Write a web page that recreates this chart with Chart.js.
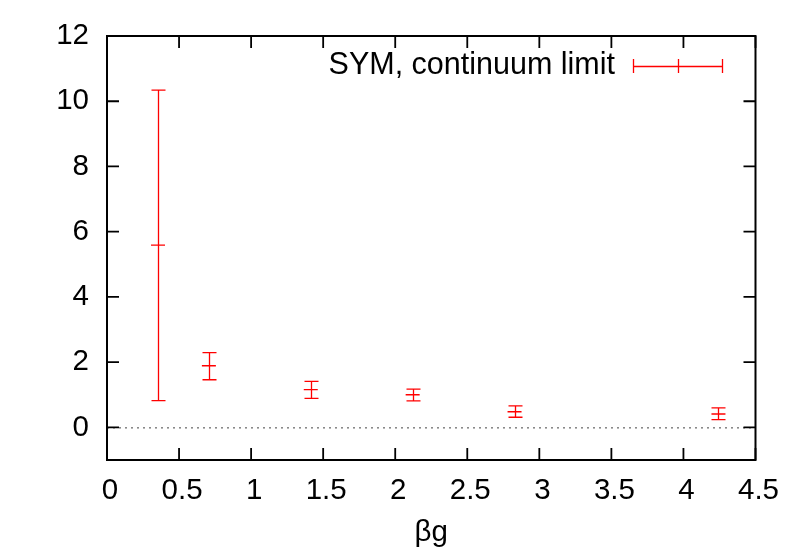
<!DOCTYPE html>
<html>
<head>
<meta charset="utf-8">
<script src="https://cdn.jsdelivr.net/npm/chart.js@4.4.1/dist/chart.umd.min.js"></script>
<style>
  html, body { margin: 0; padding: 0; background: #fff; }
  #wrap { width: 789px; height: 552px; }
</style>
</head>
<body>
<div id="wrap"><canvas id="chart"></canvas></div>
<script>
const seriesLabel = "SYM, continuum limit";
const xValues = [0.354, 0.707, 1.414, 2.121, 2.828, 4.243];
const yValues = [5.59, 1.89, 1.16, 1.00, 0.48, 0.41];
const yLow = [0.82, 1.46, 0.89, 0.81, 0.31, 0.24];
const yHigh = [10.34, 2.29, 1.41, 1.17, 0.66, 0.60];
const xTicks = [0, 0.5, 1, 1.5, 2, 2.5, 3, 3.5, 4, 4.5];
const yTicks = [0, 2, 4, 6, 8, 10, 12];

const FONT = "'Liberation Sans', Arial, Helvetica, sans-serif";
const FS = 29.5;
const RED = "#ff0000";

// error bars, frame, inward ticks, zero line and legend (gnuplot look)
const gnuplotFrame = {
  id: "gnuplotFrame",
  beforeDatasetsDraw(chart) {
    const { ctx, chartArea: a, scales: { x, y } } = chart;
    ctx.save();
    // dotted zero line
    const y0 = y.getPixelForValue(0);
    ctx.strokeStyle = "#444";
    ctx.lineWidth = 1;
    ctx.setLineDash([2, 4]);
    ctx.beginPath();
    ctx.moveTo(a.left, y0 + 0.5);
    ctx.lineTo(a.right, y0 + 0.5);
    ctx.stroke();
    ctx.setLineDash([]);

    // error bars
    ctx.strokeStyle = RED;
    ctx.lineWidth = 1.3;
    const cap = 7;
    xValues.forEach((xv, i) => {
      const px = Math.round(x.getPixelForValue(xv)) + 0.5;
      const lo = y.getPixelForValue(yLow[i]);
      const hi = y.getPixelForValue(yHigh[i]);
      ctx.beginPath();
      ctx.moveTo(px, lo);
      ctx.lineTo(px, hi);
      ctx.moveTo(px - cap, lo);
      ctx.lineTo(px + cap, lo);
      ctx.moveTo(px - cap, hi);
      ctx.lineTo(px + cap, hi);
      ctx.stroke();
    });
    ctx.restore();
  },
  afterDraw(chart) {
    const { ctx, chartArea: a, scales: { x, y } } = chart;
    ctx.save();
    ctx.strokeStyle = "#000";
    ctx.lineWidth = 2;
    ctx.strokeRect(a.left, a.top, a.right - a.left, a.bottom - a.top);

    const tl = 12;
    ctx.lineWidth = 1.8;
    ctx.beginPath();
    xTicks.forEach(v => {
      const px = x.getPixelForValue(v);
      ctx.moveTo(px, a.bottom);
      ctx.lineTo(px, a.bottom - tl);
      ctx.moveTo(px, a.top);
      ctx.lineTo(px, a.top + tl);
    });
    yTicks.forEach(v => {
      const py = y.getPixelForValue(v);
      ctx.moveTo(a.left, py);
      ctx.lineTo(a.left + tl, py);
      ctx.moveTo(a.right, py);
      ctx.lineTo(a.right - tl, py);
    });
    ctx.stroke();

    // legend
    const ly = 66;
    ctx.fillStyle = "#000";
    ctx.font = "30.5px " + FONT;
    ctx.textAlign = "right";
    ctx.textBaseline = "middle";
    ctx.fillText(seriesLabel, 615, ly);
    ctx.strokeStyle = RED;
    ctx.lineWidth = 1.3;
    ctx.beginPath();
    ctx.moveTo(633, ly + 0.5);
    ctx.lineTo(722, ly + 0.5);
    [633, 678, 722].forEach(lx => {
      ctx.moveTo(lx + 0.5, ly - 7);
      ctx.lineTo(lx + 0.5, ly + 7);
    });
    ctx.stroke();
    ctx.restore();
  }
};

new Chart(document.getElementById("chart"), {
  type: "scatter",
  plugins: [gnuplotFrame],
  data: {
    datasets: [{
      label: seriesLabel,
      data: xValues.map((v, i) => ({ x: v, y: yValues[i] })),
      pointStyle: "line",
      pointRadius: 7,
      pointHoverRadius: 7,
      borderColor: RED,
      backgroundColor: RED,
      pointBorderWidth: 1.3,
    }],
  },
  options: {
    responsive: true,
    maintainAspectRatio: false,
    animation: false,
    layout: { padding: { top: 36, right: 30, left: 0, bottom: 0 } },
    plugins: {
      legend: { display: false },
      tooltip: { enabled: false },
    },
    scales: {
      x: {
        type: "linear",
        min: 0,
        max: 4.5,
        afterBuildTicks: (s) => { s.ticks = xTicks.map(v => ({ value: v })); },
        afterFit: (s) => { s.height = 92; },
        grid: { display: false, drawTicks: false },
        border: { display: false },
        ticks: {
          color: "#000",
          font: { family: FONT, size: FS },
          padding: 13,
          labelOffset: 3,
          maxRotation: 0,
          autoSkip: false,
          callback: (v) => String(v),
        },
        title: {
          display: true,
          text: "βg",
          color: "#000",
          font: { family: FONT, size: FS },
          padding: { top: 0, bottom: 1 },
        },
      },
      y: {
        type: "linear",
        min: -1,
        max: 12,
        afterBuildTicks: (s) => { s.ticks = yTicks.map(v => ({ value: v })); },
        afterFit: (s) => { s.width = 107; },
        grid: { display: false, drawTicks: false },
        border: { display: false },
        ticks: {
          color: "#000",
          font: { family: FONT, size: FS },
          padding: 18,
          autoSkip: false,
          callback: (v) => String(v),
        },
      },
    },
  },
});
</script>
</body>
</html>
